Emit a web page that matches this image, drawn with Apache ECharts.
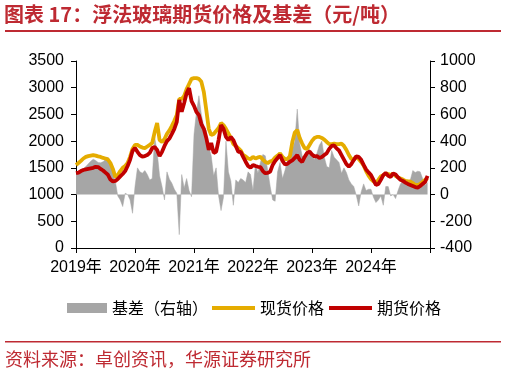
<!DOCTYPE html>
<html>
<head>
<meta charset="utf-8">
<script src="https://cdn.jsdelivr.net/npm/echarts@6/dist/echarts.min.js"></script>
<style>
  html, body { margin: 0; padding: 0; background: #fff; }
  #main { width: 506px; height: 375px; }
</style>
</head>
<body>
<div id="main"></div>
<script>
// 半月频数据，2019-01 起
var futures = [
  1400, 1410, 1440, 1460, 1470, 1480, 1490, 1500, 1520, 1515, 1480, 1450, 1410, 1370, 1280, 1245, 1255, 1290, 1340, 1385, 1440, 1535, 1650, 1815,
  1870, 1800, 1740, 1710, 1720, 1740, 1780, 1870, 1890, 1835, 1720, 1800, 1910, 2000, 2050, 2135, 2230, 2360, 2770, 2550, 2715, 2900, 2995, 2750,
  2660, 2545, 2490, 2320, 2230, 2060, 1835, 1965, 1780, 1800, 2020, 2300, 2230, 2080, 2020, 2080, 2020, 1910, 1800, 1800, 1705, 1615, 1535, 1500,
  1555, 1535, 1520, 1515, 1440, 1400, 1405, 1430, 1555, 1630, 1685, 1740, 1630, 1565, 1575, 1615, 1640, 1685, 1740, 1650, 1610, 1705, 1780, 1805,
  1750, 1715, 1720, 1685, 1705, 1740, 1775, 1855, 1910, 1920, 1865, 1825, 1740, 1655, 1570, 1525, 1570, 1645, 1715, 1705, 1650, 1555, 1470, 1415,
  1365, 1275, 1180, 1200, 1275, 1365, 1405, 1350, 1330, 1395, 1375, 1320, 1275, 1255, 1225, 1200, 1180, 1160, 1140, 1130, 1160, 1200, 1235, 1350
];
var spot = [
  1555, 1590, 1630, 1675, 1705, 1720, 1730, 1740, 1730, 1715, 1705, 1685, 1675, 1655, 1590, 1480, 1330, 1365, 1440, 1500, 1535, 1590, 1705, 1855,
  1930, 1930, 1900, 1880, 1870, 1900, 1930, 1965, 2170, 2340, 2020, 1985, 2040, 2135, 2200, 2285, 2380, 2490, 2790, 2790, 2845, 2975, 3070, 3165,
  3180, 3180, 3165, 3110, 2920, 2585, 2230, 2115, 2135, 2190, 2245, 2340, 2300, 2230, 2145, 2060, 1945, 1910, 1870, 1825, 1740, 1715, 1675, 1665,
  1705, 1675, 1695, 1705, 1655, 1610, 1590, 1620, 1640, 1695, 1730, 1770, 1705, 1665, 1665, 1715, 1985, 2160, 2210, 2060, 1955, 1870, 1855, 1930,
  2005, 2060, 2080, 2080, 2060, 2030, 1985, 1945, 1945, 1955, 1945, 1945, 1955, 1910, 1835, 1740, 1665, 1665, 1705, 1665, 1610, 1545, 1440, 1355,
  1290, 1245, 1215, 1275, 1340, 1365, 1395, 1385, 1365, 1395, 1350, 1320, 1300, 1280, 1255, 1245, 1245, 1215, 1180, 1180, 1200, 1235, 1275, 1310
];
var basis = [
  150, 165, 185, 195, 210, 230, 250, 265, 255, 240, 238, 245, 265, 280, 240, 170, 100, -10, -40, -90, 10, 0, -40, -140,
  60, 200, 170, 160, 180, 150, 110, 120, 430, 320, 140, 60, -40, 170, 115, 85, 40, 10, -300, 150, 50, 120, 30, -16,
  450, 620, 740, 600, 510, 480, 360, 290, 140, 200, -10, -120, -20, 400, 170, 100, -80, 110, 90, 120, 110, 90, 170, 150,
  30, 230, 160, 240, 300, 290, 180, 60, -40, -50, 170, 240, 120, 180, 250, 290, 340, 400, 640, 380, 290, 270, 320, 340,
  290, 260, 310, 370, 400, 280, 210, 200, 330, 280, 260, 240, 160, 200, 165, 110, 80, 60, -5, -85, 20, 80, 30, 40,
  40, -20, -60, -40, -10, -80, 60, 60, -10, 0, -30, 30, 80, 100, 85, 85, 110, 180, 165, 175, 170, 120, 70, 90
];
var yearTicks = [2019, 2020, 2021, 2022, 2023, 2024, 2025];

var dates = [];
for (var k = 0; k < futures.length; k++) {
  var yy = 2019 + Math.floor(k / 24);
  var mm = Math.floor((k % 24) / 2) + 1;
  dates.push(yy + '-' + (mm < 10 ? '0' + mm : mm) + '-' + (k % 2 ? '16' : '01'));
}
function toYear(d) {
  var p = d.split('-');
  return +p[0] + (+p[1] - 1 + (+p[2] - 1) / 30) / 12;
}
function pairs(vals) {
  return vals.map(function (v, i) { return [toYear(dates[i]), v]; });
}

var RED = '#be2a32';
var FONT = 'Liberation Sans, Noto Sans CJK SC, sans-serif';
var CJK = 'Noto Sans CJK SC';
var axisCommon = {
  axisLine: { show: true, lineStyle: { color: '#000', width: 1 } },
  axisTick: { show: true, length: 5, lineStyle: { color: '#000' } },
  splitLine: { show: false },
  axisLabel: { color: '#000', fontSize: 16, fontFamily: FONT, formatter: function (v) { return String(v); } }
};
var legendText = { color: '#000', fontSize: 16, fontFamily: CJK };

var chartDom = document.getElementById('main');
var myChart = echarts.init(chartDom);
var option = {
  animation: false,
  backgroundColor: '#fff',
  title: {
    text: '图表 17：浮法玻璃期货价格及基差（元/吨）',
    left: 4,
    top: 4,
    padding: 0,
    textStyle: { color: RED, fontSize: 20, fontWeight: 'bold', fontFamily: CJK }
  },
  graphic: [
    { type: 'rect', shape: { x: 5, y: 30, width: 496, height: 2 }, style: { fill: RED } },
    { type: 'rect', shape: { x: 5, y: 341, width: 496, height: 1.5 }, style: { fill: RED } },
    {
      type: 'text', left: 5, top: 350,
      style: { text: '资料来源：卓创资讯，华源证券研究所', fill: RED, fontSize: 18, fontFamily: CJK }
    }
  ],
  legend: [
    {
      left: 67,
      top: 300,
      padding: 0,
      itemWidth: 40,
      itemHeight: 10,
      textStyle: legendText,
      data: [{ name: '基差（右轴）', icon: 'rect' }]
    },
    {
      left: 212,
      top: 300,
      padding: 0,
      itemWidth: 43,
      itemHeight: 4,
      itemGap: 5,
      textStyle: legendText,
      data: [{ name: '现货价格', icon: 'rect' }, { name: '期货价格', icon: 'rect' }]
    }
  ],
  grid: { left: 76, right: 76, top: 61, bottom: 127 },
  xAxis: Object.assign({}, axisCommon, {
    type: 'value',
    min: yearTicks[0],
    max: yearTicks[yearTicks.length - 1],
    interval: 1,
    axisLabel: Object.assign({}, axisCommon.axisLabel, {
      margin: 12,
      formatter: function (v) { return v < yearTicks[yearTicks.length - 1] ? v + '年' : ''; }
    })
  }),
  yAxis: [
    Object.assign({}, axisCommon, {
      type: 'value', min: 0, max: 3500, interval: 500,
      axisLabel: Object.assign({}, axisCommon.axisLabel, { margin: 12 })
    }),
    Object.assign({}, axisCommon, {
      type: 'value', min: -400, max: 1000, interval: 200, position: 'right',
      axisLabel: Object.assign({}, axisCommon.axisLabel, { margin: 10 })
    })
  ],
  series: [
    {
      name: '基差（右轴）',
      type: 'line',
      yAxisIndex: 1,
      symbol: 'none',
      color: '#a6a6a6',
      lineStyle: { width: 0.5, color: '#a6a6a6' },
      areaStyle: { color: '#a6a6a6', opacity: 1 },
      data: pairs(basis)
    },
    {
      name: '现货价格',
      type: 'line',
      symbol: 'none',
      color: '#e5ac00',
      lineStyle: { width: 3.8, color: '#e5ac00' },
      data: pairs(spot)
    },
    {
      name: '期货价格',
      type: 'line',
      symbol: 'none',
      color: '#c00000',
      lineStyle: { width: 3.8, color: '#c00000' },
      data: pairs(futures)
    }
  ]
};

option && myChart.setOption(option);
</script>
</body>
</html>
